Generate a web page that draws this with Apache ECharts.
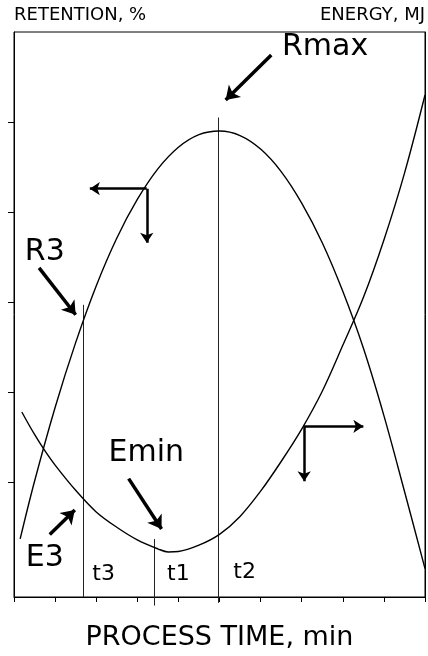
<!DOCTYPE html>
<html>
<head>
<meta charset="utf-8">
<script src="https://cdn.jsdelivr.net/npm/echarts@6/dist/echarts.min.js"></script>
<style>
  html, body { margin: 0; padding: 0; background: #fff; }
  #chart { width: 428px; height: 656px; }
</style>
</head>
<body>
<div id="chart"></div>
<script>
// Retention curve (left axis), process time in minutes
const retentionTime  = [0.15, 0.5, 1, 1.5, 2, 2.5, 3, 3.5, 4, 4.5, 5, 5.5, 6, 6.5, 7, 7.5, 8, 8.5, 9, 9.5, 10];
const retentionValue = [3.7, 10.1, 18.3, 25.5, 31.8, 37.1, 41.4, 44.8, 47.2, 48.6, 49.0, 48.5, 47.0, 44.5, 41.0, 36.6, 31.2, 24.9, 17.4, 9.0, 0.4];

// Energy curve (right axis)
const energyTime  = [0.19, 0.5, 0.75, 1, 1.5, 2, 2.5, 3, 3.5, 3.75, 4, 4.5, 5, 5.5, 6, 6.5, 7, 7.5, 8, 8.5, 9, 9.5, 10];
const energyValue = [17.8, 15.3, 13.5, 11.9, 9.1, 6.7, 5.0, 3.6, 2.6, 2.25, 2.3, 3.0, 4.2, 6.2, 9.0, 12.3, 15.9, 20.1, 25.2, 30.5, 36.9, 44.3, 53.0];

// Characteristic times: name, time, top of the guide line, bottom of the guide line
const markerNames   = ['t3', 't1', 't2'];
const markerTimes   = [1.675, 3.42, 4.98];
const markerTops    = [29.7, 3.7, 50.5];
const markerBottoms = [-2.75, -3.7, -3.4];
const markerLabelAt = [[2.18, -0.2], [4.0, -0.2], [5.61, 0.0]];

// Callouts: label, label anchor, arrow tail, arrow head
const calloutNames = ['Rmax', 'R3', 'E3', 'Emin'];
const calloutAt    = [[7.57, 58.3], [0.75, 35.5], [0.75, 1.6], [3.22, 13.2]];
const calloutTails = [[6.26, 57.45], [0.61, 33.8], [0.87, 4.2], [2.79, 10.4]];
const calloutHeads = [[5.15, 52.46], [1.50, 28.6], [1.48, 6.9], [3.59, 4.8]];

// Axis-direction cues on each curve: corner point, horizontal tip time, vertical tip value
const cueCorners = [[3.23, 42.6], [7.06, 16.2]];
const cueTipTime = [1.845, 8.5];
const cueTipValue = [36.6, 10.1];

const yTicks = [10, 20, 30, 40, 50];

const font = 'DejaVu Sans';
const ink = '#000';

const chart = echarts.init(document.getElementById('chart'), null, { renderer: 'canvas' });

const pair = (xs, ys) => xs.map((x, i) => [x, ys[i]]);

const guideLines = markerTimes.map((t, i) => ({ coords: [[t, markerTops[i]], [t, markerBottoms[i]]] }));
const calloutArrows = calloutTails.map((p, i) => ({ coords: [p, calloutHeads[i]] }));
const cueArrows = [];
cueCorners.forEach((c, i) => {
  cueArrows.push({ coords: [c, [cueTipTime[i], c[1]]] });
  cueArrows.push({ coords: [c, [c[0], cueTipValue[i]]] });
});

const textItems = calloutNames.map((n, i) => ({ name: n, value: calloutAt[i] }))
  .concat(markerNames.map((n, i) => ({
    name: n, value: markerLabelAt[i], label: { fontSize: 22 }
  })));

chart.setOption({
  backgroundColor: '#fff',
  animation: false,
  grid: {
    left: 14, right: 2, top: 32, bottom: 58,
    show: true, borderColor: ink, borderWidth: 1
  },
  xAxis: {
    type: 'value', min: 0, max: 10, interval: 1,
    name: 'PROCESS TIME, min', nameLocation: 'middle', nameGap: 27,
    nameTextStyle: { fontFamily: font, fontSize: 27, color: ink },
    axisLine: { show: true, onZero: false, lineStyle: { color: ink, width: 1 } },
    axisTick: { show: true, inside: false, length: 5, lineStyle: { color: ink } },
    axisLabel: { show: false },
    splitLine: { show: false }
  },
  yAxis: [
    {
      type: 'value', min: -2.75, max: 60, position: 'left',
      name: 'RETENTION, %', nameLocation: 'end', nameGap: 8,
      nameTextStyle: { fontFamily: font, fontSize: 18, color: ink, align: 'left' },
      axisLine: { show: true, onZero: false, lineStyle: { color: ink, width: 1 } },
      axisTick: { show: true, inside: false, length: 6, customValues: yTicks, lineStyle: { color: ink } },
      axisLabel: { show: false },
      splitLine: { show: false }
    },
    {
      type: 'value', min: -2.75, max: 60, position: 'right',
      name: 'ENERGY, MJ', nameLocation: 'end', nameGap: 8,
      nameTextStyle: { fontFamily: font, fontSize: 18, color: ink, align: 'right' },
      axisLine: { show: true, onZero: false, lineStyle: { color: ink, width: 1 } },
      axisTick: { show: false },
      axisLabel: { show: false },
      splitLine: { show: false }
    }
  ],
  series: [
    {
      name: 'Retention', type: 'line', yAxisIndex: 0,
      data: pair(retentionTime, retentionValue),
      smooth: 0.35, showSymbol: false,
      lineStyle: { color: ink, width: 1.4 }
    },
    {
      name: 'Energy', type: 'line', yAxisIndex: 1,
      data: pair(energyTime, energyValue),
      smooth: 0.35, showSymbol: false,
      lineStyle: { color: ink, width: 1.4 }
    },
    {
      name: 'Guides', type: 'lines', coordinateSystem: 'cartesian2d', clip: false,
      data: guideLines, symbol: ['none', 'none'],
      lineStyle: { color: '#222', width: 1, opacity: 1 }
    },
    {
      name: 'Callout arrows', type: 'lines', coordinateSystem: 'cartesian2d',
      data: calloutArrows, symbol: ['none', 'arrow'], symbolSize: 13,
      lineStyle: { color: ink, width: 3.5, opacity: 1 }
    },
    {
      name: 'Direction cues', type: 'lines', coordinateSystem: 'cartesian2d',
      data: cueArrows, symbol: ['none', 'arrow'], symbolSize: 10,
      lineStyle: { color: ink, width: 2.5, opacity: 1 }
    },
    {
      name: 'Labels', type: 'scatter', symbolSize: 0, clip: false,
      itemStyle: { opacity: 1 },
      data: textItems,
      label: {
        show: true, position: 'inside', formatter: '{b}',
        fontFamily: font, fontSize: 30, color: ink, opacity: 1
      }
    }
  ]
});
</script>
</body>
</html>
